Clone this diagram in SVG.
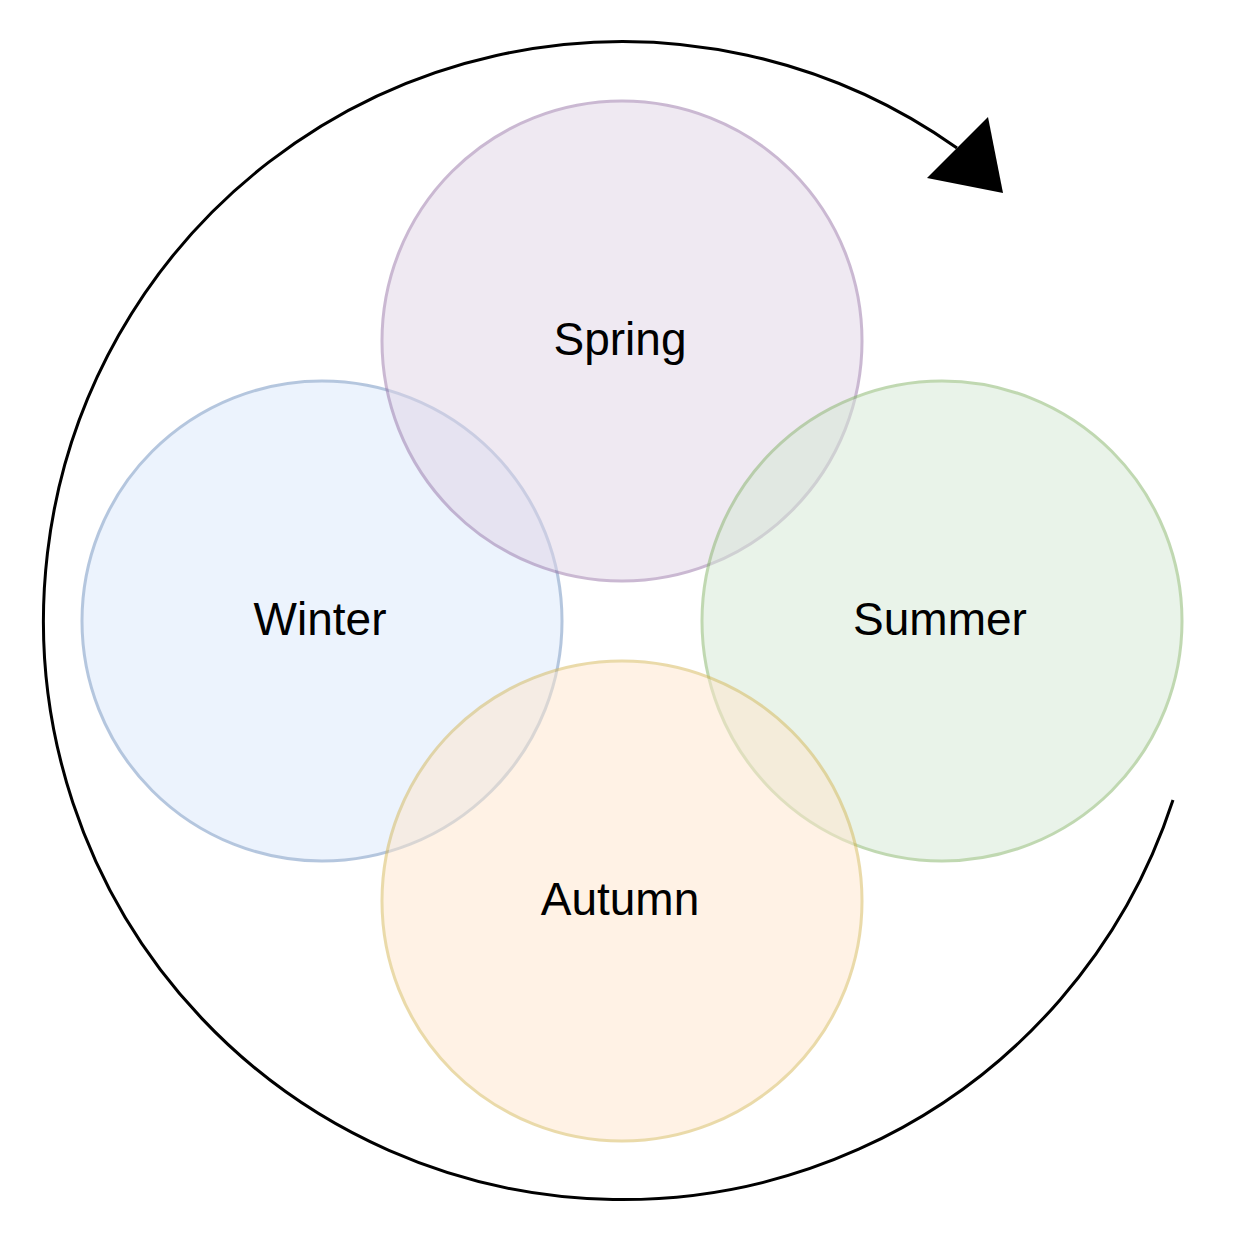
<svg xmlns="http://www.w3.org/2000/svg" width="1244" height="1244" viewBox="0 0 1244 1244">
<defs>
<style>
.c{stroke-width:3;opacity:0.5}
.t{font-family:"Liberation Sans",Arial,sans-serif;font-size:46px;fill:#000;text-anchor:middle}
</style>
</defs>
<rect width="1244" height="1244" fill="#fff"/>
<g id="connectors">
<path d="M 1173 800 A 579 579 0 1 1 957 148" fill="none" stroke="#000" stroke-width="3"/>
<polygon points="1003,193 927,178 988,117" fill="#000"/>
</g>
<g id="winter"><circle class="c" cx="322" cy="621" r="240" fill="#dae8fc" stroke="#6c8ebf"/><text class="t" x="320" y="635">Winter</text></g>
<g id="spring"><circle class="c" cx="622" cy="341" r="240" fill="#e1d5e7" stroke="#9673a6"/><text class="t" x="620" y="355">Spring</text></g>
<g id="summer"><circle class="c" cx="942" cy="621" r="240" fill="#d5e8d4" stroke="#82b366"/><text class="t" x="940" y="635">Summer</text></g>
<g id="autumn"><circle class="c" cx="622" cy="901" r="240" fill="#ffe6cc" stroke="#d6b656"/><text class="t" x="620" y="915">Autumn</text></g>
</svg>
